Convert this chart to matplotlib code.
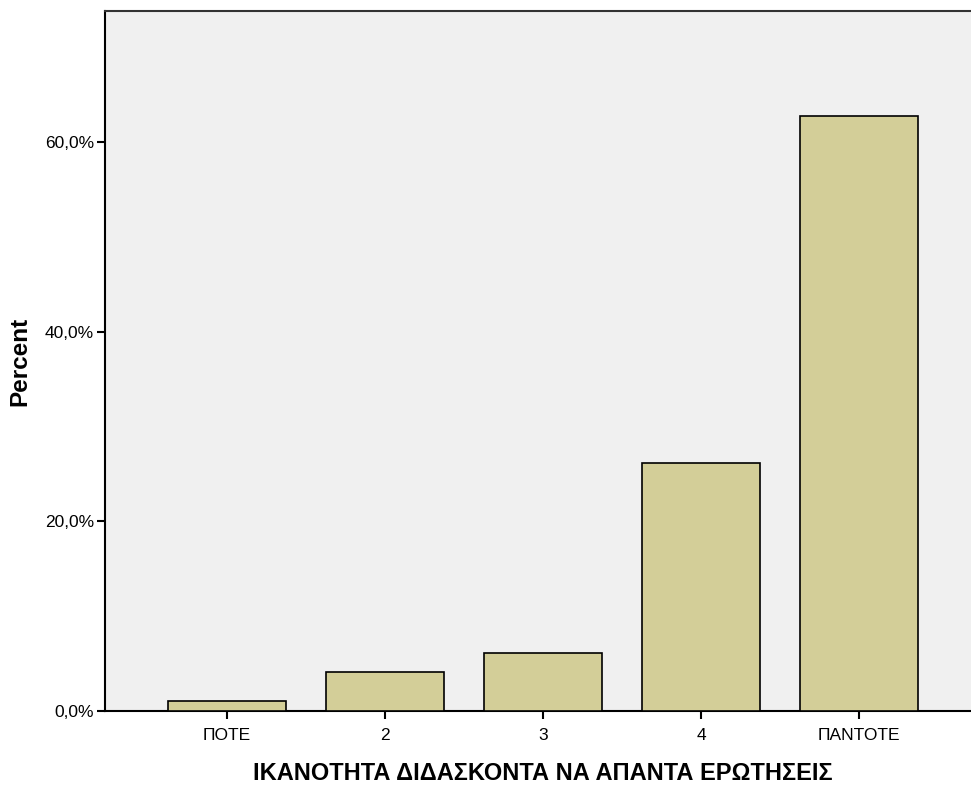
import matplotlib
matplotlib.use("Agg")
import matplotlib.pyplot as plt
from matplotlib.ticker import FuncFormatter

plt.rcParams['font.family'] = ['Liberation Sans', 'DejaVu Sans']

# Datos
categorias = ["ΠΟΤΕ", "2", "3", "4", "ΠΑΝΤΟΤΕ"]
porcentajes = [1.05, 4.1, 6.1, 26.1, 62.7]
ticks_y = [0, 20, 40, 60]

fig = plt.figure(figsize=(9.71, 7.86), dpi=100)
ax = fig.add_axes([105/971, 1 - 711/786, 1 - 105/971 + 0.01, (711 - 11)/786])
ax.set_facecolor("#f0f0f0")

pos = range(len(categorias))
ax.bar(pos, porcentajes, width=0.75, color="#d3ce98", edgecolor="black", linewidth=1.2, zorder=3)

ax.set_xlim(-0.772, 4.709 + 0.01 * 971 / 158)
ax.set_ylim(0, 73.8)
ax.set_xticks(list(pos))
ax.set_xticklabels(categorias)
ax.set_yticks(ticks_y)
ax.yaxis.set_major_formatter(FuncFormatter(lambda v, p: f"{v:.1f}%".replace(".", ",")))
ax.tick_params(axis="both", direction="out", length=6, width=1.5, labelsize=12.5)
ax.tick_params(axis="x", pad=6)
ax.tick_params(axis="y", pad=2)

for s in ["left", "bottom", "top"]:
    ax.spines[s].set_linewidth(1.5)
ax.spines["right"].set_visible(False)
ax.spines["top"].set_color("#333333")

ax.set_xlabel("ΙΚΑΝΟΤΗΤΑ ΔΙΔΑΣΚΟΝΤΑ ΝΑ ΑΠΑΝΤΑ ΕΡΩΤΗΣΕΙΣ", fontsize=17, fontweight="bold", labelpad=14)
ax.set_ylabel("Percent", fontsize=17.5, fontweight="bold", labelpad=10)

fig.savefig("out.png", dpi=100)
